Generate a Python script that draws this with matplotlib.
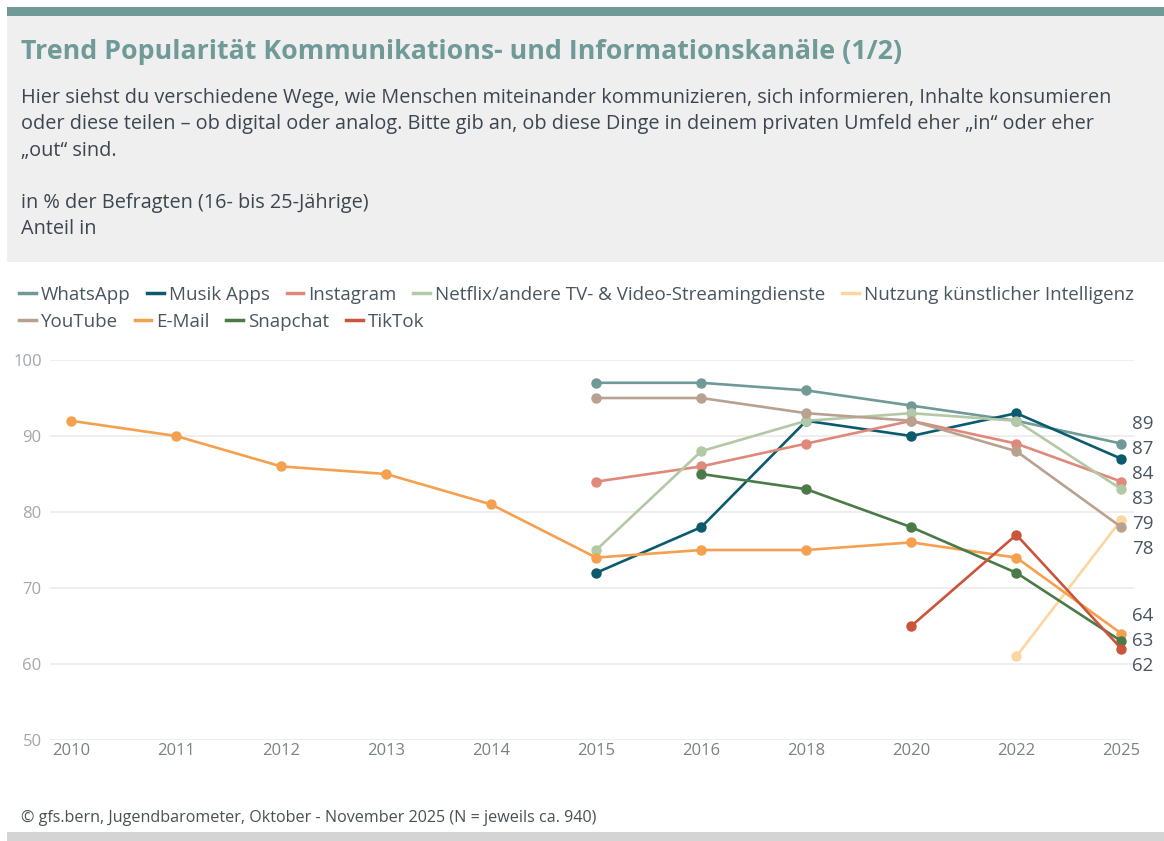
import numpy as np
import matplotlib.pyplot as plt
from matplotlib.patches import Rectangle
from matplotlib.lines import Line2D

plt.rcParams['font.family'] = ['Open Sans', 'DejaVu Sans']

years = ["2010", "2011", "2012", "2013", "2014", "2015", "2016", "2018", "2020", "2022", "2025"]
nan = np.nan

whatsapp = [nan, nan, nan, nan, nan, 97, 97, 96, 94, 92, 89]
musik_apps = [nan, nan, nan, nan, nan, 72, 78, 92, 90, 93, 87]
instagram = [nan, nan, nan, nan, nan, 84, 86, 89, 92, 89, 84]
netflix = [nan, nan, nan, nan, nan, 75, 88, 92, 93, 92, 83]
ki = [nan, nan, nan, nan, nan, nan, nan, nan, nan, 61, 79]
youtube = [nan, nan, nan, nan, nan, 95, 95, 93, 92, 88, 78]
email = [92, 90, 86, 85, 81, 74, 75, 75, 76, 74, 64]
snapchat = [nan, nan, nan, nan, nan, nan, 85, 83, 78, 72, 63]
tiktok = [nan, nan, nan, nan, nan, nan, nan, nan, 65, 77, 62]

series = [
    ("WhatsApp", whatsapp, "#6f9a98"),
    ("Musik Apps", musik_apps, "#0b5a6e"),
    ("Instagram", instagram, "#e0887a"),
    ("Netflix/andere TV- & Video-Streamingdienste", netflix, "#b3c8a5"),
    ("Nutzung künstlicher Intelligenz", ki, "#fdd5a0"),
    ("YouTube", youtube, "#b9a18f"),
    ("E-Mail", email, "#f5a04f"),
    ("Snapchat", snapchat, "#4a7a45"),
    ("TikTok", tiktok, "#c9553b"),
]

W, H = 1164, 841
fig = plt.figure(figsize=(W / 100, H / 100), dpi=100)

# header panel + top bar + bottom bar
fig.patches.append(Rectangle((7 / W, 1 - 262 / H), 1, 246 / H, transform=fig.transFigure,
                             facecolor="#efefef", edgecolor="none", zorder=0))
fig.patches.append(Rectangle((7 / W, 1 - 16 / H), 1, 9 / H, transform=fig.transFigure,
                             facecolor="#6f9a98", edgecolor="none", zorder=0))
fig.patches.append(Rectangle((7 / W, 0), 1, 9 / H, transform=fig.transFigure,
                             facecolor="#d4d4d4", edgecolor="none", zorder=0))

fig.text(21 / W, 1 - 52 / H, "Trend Popularität Kommunikations- und Informationskanäle (1/2)",
         fontsize=19.3, fontweight="bold", color="#6f9a98", va="center", ha="left")
sub = ("Hier siehst du verschiedene Wege, wie Menschen miteinander kommunizieren, sich informieren, Inhalte konsumieren\n"
       "oder diese teilen – ob digital oder analog. Bitte gib an, ob diese Dinge in deinem privaten Umfeld eher „in“ oder eher\n"
       "„out“ sind.\n\nin % der Befragten (16- bis 25-Jährige)\nAnteil in")
fig.text(21 / W, 1 - 88 / H, sub, fontsize=14.3, color="#3d4650", va="top", ha="left",
         linespacing=1.42)

fig.text(21 / W, 1 - 818 / H, "© gfs.bern, Jugendbarometer, Oktober - November 2025 (N = jeweils ca. 940)",
         fontsize=11.6, color="#4a5058", va="center", ha="left")

ax = fig.add_axes([50 / W, 1 - 740 / H, 1084 / W, 380 / H])
x = np.arange(len(years))
for name, vals, col in series:
    ax.plot(x, vals, color=col, lw=1.9, marker="o", ms=6.5, label=name, zorder=3)

ax.set_xlim(-0.2, 10.12)
ax.set_ylim(50, 100)
ax.set_yticks([50, 60, 70, 80, 90, 100])
ax.set_xticks(x)
ax.set_xticklabels(years)
ax.grid(axis="y", color="#ebebeb", lw=1.2)
ax.set_axisbelow(True)
for s in ax.spines.values():
    s.set_visible(False)
ax.tick_params(length=0)
ax.tick_params(axis="y", labelcolor="#a3a7ab", labelsize=12, pad=6)
ax.tick_params(axis="x", labelcolor="#7b8087", labelsize=12, pad=2)
ax.patch.set_alpha(0)

# end labels, spread apart where they would overlap (merge clusters until no overlap)
last = sorted([vals[-1] for _, vals, _ in series], reverse=True)
gap = 3.3
clusters = [[v] for v in last]
changed = True
while changed:
    changed = False
    for i in range(len(clusters) - 1):
        a, b = clusters[i], clusters[i + 1]
        a_low = np.mean(a) - (len(a) - 1) / 2 * gap
        b_high = np.mean(b) + (len(b) - 1) / 2 * gap
        if a_low - b_high < gap:
            clusters[i] = a + b
            del clusters[i + 1]
            changed = True
            break
for g in clusters:
    c = np.mean(g)
    n = len(g)
    for i, v in enumerate(g):
        pos = c + (n - 1) / 2 * gap - i * gap
        ax.text(10.1, pos, str(int(v)), fontsize=13.5, color="#4a5560", va="center", ha="left",
                clip_on=False)

# legend in two rows
handles = [Line2D([], [], color=col, lw=2.5) for _, _, col in series]
labels = [name for name, _, _ in series]
leg_kw = dict(frameon=False, fontsize=13.5, handlelength=0.9, handletextpad=0.25,
              columnspacing=0.9, labelcolor="#4a5560", borderaxespad=0, borderpad=0)
fig.legend(handles[:5], labels[:5], ncol=5, loc="center left",
           bbox_to_anchor=(19 / W, 1 - 295 / H), **leg_kw)
fig.legend(handles[5:], labels[5:], ncol=4, loc="center left",
           bbox_to_anchor=(19 / W, 1 - 322 / H), **leg_kw)

fig.savefig("out.png", dpi=100)
